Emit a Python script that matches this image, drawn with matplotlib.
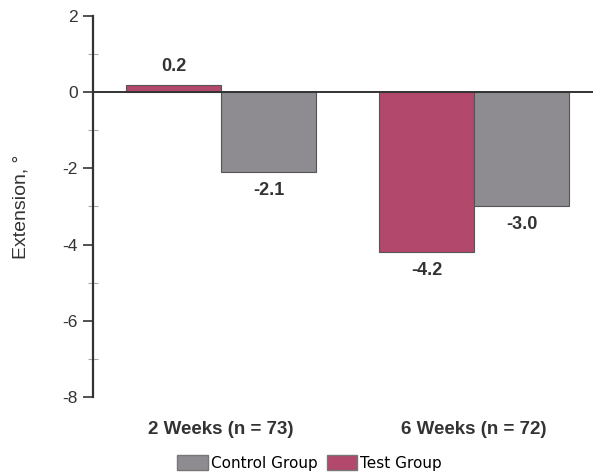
import numpy as np
import matplotlib.pyplot as plt
from matplotlib.patches import Patch

groups = ["2 Weeks (n = 73)", "6 Weeks (n = 72)"]
test_vals = [0.2, -4.2]
control_vals = [-2.1, -3.0]
yticks = [2, 0, -2, -4, -6, -8]

pink = '#b3486d'
gray = '#8f8c91'
txt = '#333333'
helv = 'Liberation Sans'

fig = plt.figure(figsize=(5.93, 4.72), dpi=100)
ax = fig.add_axes([0.157, 0.159, 0.843, 0.807])

x = np.arange(len(groups))
w = 0.375
ax.bar(x - w / 2, test_vals, w, color=pink, edgecolor='#555555', linewidth=0.8, zorder=2)
ax.bar(x + w / 2, control_vals, w, color=gray, edgecolor='#555555', linewidth=0.8, zorder=2)

# value labels
for xi, v in zip(x - w / 2, test_vals):
    off = 0.25 if v > 0 else -0.25
    ax.text(xi, v + off, f'{v:.1f}', ha='center', va='bottom' if v > 0 else 'top',
            fontsize=13, fontweight='bold', color=txt, family=helv)
for xi, v in zip(x + w / 2, control_vals):
    ax.text(xi, v - 0.25, f'{v:.1f}', ha='center', va='top',
            fontsize=13, fontweight='bold', color=txt, family=helv)

ax.axhline(0, color='#333333', linewidth=1.4, zorder=3)

ax.set_xlim(-0.506, 1.47)
ax.set_ylim(-8, 2)
ax.set_yticks(yticks)
ax.set_yticklabels([str(t) for t in yticks], fontsize=12.5, color=txt, family=helv)
ax.set_yticks(np.arange(-7, 2, 2), minor=True)
ax.tick_params(axis='y', which='major', direction='out', length=7, width=1.2, color='#333333', pad=4)
ax.tick_params(axis='y', which='minor', direction='inout', length=7, width=0.8, color='#aaaaaa')

ax.set_xticks(x)
ax.set_xticklabels(groups, fontsize=13.5, fontweight='bold', color=txt, family=helv)
ax.tick_params(axis='x', length=0, pad=17)

for s in ['top', 'right', 'bottom']:
    ax.spines[s].set_visible(False)
ax.spines['left'].set_linewidth(1.6)
ax.spines['left'].set_color('#333333')

ax.set_ylabel('Extension, °', fontsize=14, color=txt, family=helv, labelpad=24)

handles = [Patch(facecolor=gray, edgecolor='#777777', label='Control Group'),
           Patch(facecolor=pink, edgecolor='#777777', label='Test Group')]
fig.legend(handles=handles, loc='center', bbox_to_anchor=(0.522, 1 - 463 / 472), ncol=2,
           frameon=False, fontsize=11, handlelength=2.0, handleheight=1.1,
           handletextpad=0.2, columnspacing=0.6, borderpad=0)

fig.savefig('out.png', dpi=100)
